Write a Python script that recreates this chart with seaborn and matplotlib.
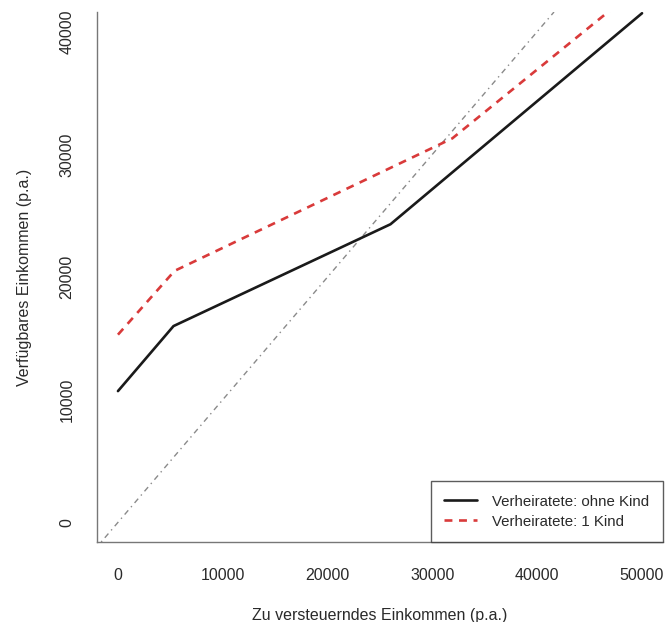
import numpy as np
import pandas as pd
import matplotlib
matplotlib.use("Agg")
import matplotlib.pyplot as plt
import seaborn as sns
from matplotlib.lines import Line2D

# Kinks of the two income curves (zu versteuerndes -> verfügbares Einkommen)
x_ohne_kind = [0, 5300, 26000, 50000]
y_ohne_kind = [10700, 16000, 24300, 41500]
x_ein_kind = [0, 5400, 31900, 50000]
y_ein_kind = [15300, 20500, 31300, 43850]

label_ohne_kind = "Verheiratete: ohne Kind"
label_ein_kind = "Verheiratete: 1 Kind"

x_ticks = [0, 10000, 20000, 30000, 40000, 50000]
y_ticks = [0, 10000, 20000, 30000, 40000]

# 45 degree reference line (verfügbar = zu versteuern)
identity_point = (0, 0)
identity_slope = 1

df = pd.concat([
    pd.DataFrame({"x": x_ohne_kind, "y": y_ohne_kind, "gruppe": label_ohne_kind}),
    pd.DataFrame({"x": x_ein_kind, "y": y_ein_kind, "gruppe": label_ein_kind}),
], ignore_index=True)

sns.set_style("white")
plt.rcParams["font.family"] = ["Liberation Sans", "DejaVu Sans"]

fig = plt.figure(figsize=(6.7, 6.22), dpi=100)
ax = fig.add_axes([97 / 670, 80 / 622, 566 / 670, 530 / 622])

colors = {label_ohne_kind: "#1a1a1a", label_ein_kind: "#d93a3a"}
dashes = {label_ohne_kind: "", label_ein_kind: (3, 2.5)}

ax.axline(identity_point, slope=identity_slope, color="#8a8a8a", lw=1.0,
          dashes=(1, 3, 4, 3), zorder=1)

sns.lineplot(data=df, x="x", y="y", hue="gruppe", style="gruppe",
             palette=colors, dashes=dashes, sort=False, lw=1.9,
             legend=False, ax=ax, zorder=2)

ax.set_xlim(-2000, 52000)
ax.set_ylim(-1600, 41600)
ax.set_xticks(x_ticks)
ax.set_yticks(y_ticks)
ax.set_yticklabels([str(t) for t in y_ticks], rotation=90, va="center")

for side in ["top", "right"]:
    ax.spines[side].set_visible(False)
for side in ["left", "bottom"]:
    ax.spines[side].set_color("#777777")
    ax.spines[side].set_linewidth(1.0)

ax.tick_params(axis="x", length=8.5, width=1, color="#333333", pad=10,
               labelsize=11.5, labelcolor="#2a2a2a")
ax.tick_params(axis="y", length=7.2, width=1, color="#333333", pad=9,
               labelsize=11.5, labelcolor="#2a2a2a")

ax.set_xlabel("Zu versteuerndes Einkommen (p.a.)", fontsize=11.5, color="#2a2a2a", labelpad=18)
ax.set_ylabel("Verfügbares Einkommen (p.a.)", fontsize=11.5, color="#2a2a2a", labelpad=20)

handles = [
    Line2D([], [], color=colors[label_ohne_kind], lw=1.9),
    Line2D([], [], color=colors[label_ein_kind], lw=1.9, dashes=(3, 2.5)),
]
leg = ax.legend(handles, [label_ohne_kind, label_ein_kind], loc="lower right",
                bbox_to_anchor=(1.0, 0.0), borderaxespad=0, fontsize=10.8,
                frameon=True, fancybox=False, handlelength=2.2, handletextpad=1.0,
                borderpad=0.9, labelspacing=0.4)
leg.get_frame().set_edgecolor("#333333")
leg.get_frame().set_linewidth(1.0)
for t in leg.get_texts():
    t.set_color("#2a2a2a")

fig.savefig("out.png", dpi=100)
